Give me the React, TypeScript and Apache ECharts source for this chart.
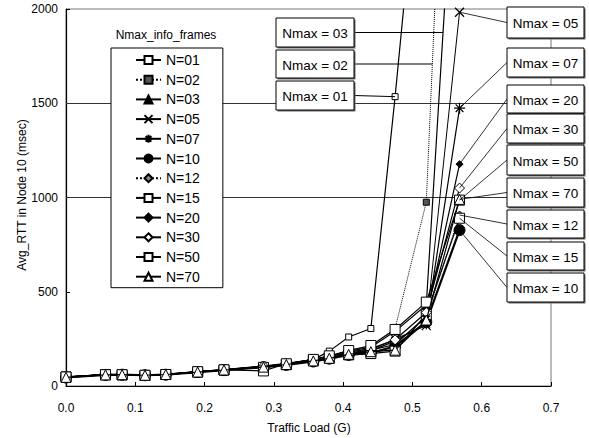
import React, { useEffect, useRef } from "react";
import * as echarts from "echarts";

// ---- data ----
const loads = [0, 0.057, 0.081, 0.114, 0.144, 0.19, 0.228, 0.285, 0.318, 0.357, 0.38, 0.408, 0.44, 0.475, 0.52, 0.568];
const n01 = [46, 60, 61, 57, 60, 74, 86, 103, 118, 140, 185, 260, 305, 1535, 3250, null];
const n02 = [48, 59, 60, 56, 61, 76, 84, 100, 112, 136, 155, 190, 212, 305, 975, 5000];
const n03 = [47, 61, 59, 58, 62, 75, 86, 104, 116, 142, 158, 185, 205, 290, 430, 3300];
const n05 = [46, 60, 60, 57, 62, 73, 85, 101, 114, 137, 150, 172, 190, 250, 320, 1983];
const n07 = [47, 60, 61, 58, 61, 75, 86, 102, 116, 135, 148, 170, 185, 240, 330, 1474];
const n10 = [45, 59, 60, 57, 60, 74, 84, 100, 112, 130, 145, 165, 175, 210, 340, 827];
const n12 = [47, 61, 60, 58, 62, 76, 86, 104, 118, 138, 152, 178, 195, 230, 360, 907];
const n15 = [48, 60, 59, 56, 61, 74, 85, 99, 113, 134, 148, 165, 172, 185, 380, 890];
const n20 = [46, 60, 60, 57, 60, 75, 85, 103, 115, 136, 150, 175, 190, 220, 370, 1177];
const n30 = [47, 61, 61, 58, 62, 77, 87, 106, 120, 140, 155, 180, 198, 245, 390, 1050];
const n50 = [48, 60, 60, 57, 61, 76, 86, 80, 118, 141, 160, 188, 215, 300, 445, 986];
const n70 = [46, 59, 60, 57, 61, 74, 85, 100, 114, 133, 147, 168, 182, 190, 350, 990];

const seriesNames = ["N=01", "N=02", "N=03", "N=05", "N=07", "N=10", "N=12", "N=15", "N=20", "N=30", "N=50", "N=70"];
const seriesValues = [n01, n02, n03, n05, n07, n10, n12, n15, n20, n30, n50, n70];
const xTicks = [0, 0.1, 0.2, 0.3, 0.4, 0.5, 0.6, 0.7];
const yTicks = [0, 500, 1000, 1500, 2000];
const gridLinesY = [1000, 1500];

const legendTitle = "Nmax_info_frames";
const xName = "Traffic Load (G)";
const yName = "Avg_RTT in Node 10 (msec)";

// annotation boxes: label, series index
const rightNotes = [
  { label: "Nmax = 05", s: 3 },
  { label: "Nmax = 07", s: 4 },
  { label: "Nmax = 20", s: 8 },
  { label: "Nmax = 30", s: 9 },
  { label: "Nmax = 50", s: 10 },
  { label: "Nmax = 70", s: 11 },
  { label: "Nmax = 12", s: 6 },
  { label: "Nmax = 15", s: 7 },
  { label: "Nmax = 10", s: 5 },
];
const leftNotes = [
  { label: "Nmax = 03", s: 2 },
  { label: "Nmax = 02", s: 1 },
  { label: "Nmax = 01", s: 0 },
];

// ---- styles ----
const X_PATH = "path://M0,0L10,10M10,0L0,10";
const AST_PATH = "path://M5,0L5,10M0,5L10,5M1.5,1.5L8.5,8.5M8.5,1.5L1.5,8.5";
const styles: any[] = [
  { symbol: "rect", size: 6, fill: "#fff", lw: 1.2, type: "solid" },
  { symbol: "rect", size: 6, fill: "#555", lw: 1, type: "dotted" },
  { symbol: "triangle", size: 7, fill: "#000", lw: 1.2, type: "solid" },
  { symbol: X_PATH, size: 9, fill: "none", lw: 1, type: "solid", stroke: true },
  { symbol: AST_PATH, size: 11, fill: "none", lw: 1.2, type: "solid", stroke: true },
  { symbol: "circle", size: 11, fill: "#000", lw: 2.2, type: "solid" },
  { symbol: "diamond", size: 8, fill: "#888", lw: 1, type: "dotted" },
  { symbol: "rect", size: 10, fill: "#fff", lw: 1.2, type: "solid" },
  { symbol: "diamond", size: 7, fill: "#000", lw: 1.2, type: "solid" },
  { symbol: "diamond", size: 10, fill: "#fff", lw: 1.2, type: "solid" },
  { symbol: "rect", size: 10, fill: "#fff", lw: 1.2, type: "solid" },
  { symbol: "triangle", size: 10, fill: "#fff", lw: 1.2, type: "solid" },
];

const FONT = "Liberation Sans, Arial, sans-serif";

export default function App() {
  const ref = useRef<HTMLDivElement>(null);
  useEffect(() => {
    document.body.style.margin = "0";
    const chart = echarts.init(ref.current!, undefined, { renderer: "svg" });
    const series: any[] = seriesNames.map((name, i) => {
      const st = styles[i];
      const data = loads.map((x, k) => [x, seriesValues[i][k]]).filter((p) => p[1] !== null);
      const s: any = {
        name,
        type: "line",
        data,
        symbol: st.symbol,
        symbolSize: st.size,
        showSymbol: true,
        clip: true,
        z: 2 + i * 0.01,
        lineStyle: { color: "#000", width: st.lw, type: st.type },
        itemStyle: {
          color: st.fill,
          borderColor: "#000",
          borderWidth: st.stroke ? 1.2 : 1,
        },
        emphasis: { disabled: true },
      };
      if (i === 0) {
        s.markLine = {
          silent: true,
          symbol: "none",
          label: { show: false },
          lineStyle: { color: "#333", width: 1, type: "solid" },
          data: gridLinesY.map((v) => ({ yAxis: v })),
          z: 1,
        };
      }
      return s;
    });

    chart.setOption({
      animation: false,
      backgroundColor: "#fff",
      grid: {
        left: 66,
        right: 38,
        top: 9,
        bottom: 52,
        show: true,
        borderColor: "#777",
        borderWidth: 1,
        backgroundColor: "transparent",
      },
      legend: {
        orient: "vertical",
        left: 111,
        top: 48,
        data: seriesNames,
        itemWidth: 25,
        itemHeight: 10,
        itemGap: 5.7,
        padding: [5, 23, 4, 24],
        backgroundColor: "#fff",
        borderColor: "#000",
        borderWidth: 1,
        selectedMode: false,
        textStyle: { fontFamily: FONT, fontSize: 14, color: "#000" },
        z: 10,
      },
      xAxis: {
        type: "value",
        min: 0,
        max: 0.7,
        interval: 0.1,
        axisLine: { show: true, lineStyle: { color: "#000", width: 1.2 } },
        axisTick: { show: true, inside: true, length: 4, lineStyle: { color: "#000" } },
        splitLine: { show: false },
        axisLabel: {
          margin: 16,
          fontFamily: FONT,
          fontSize: 12,
          color: "#000",
          formatter: (v: number) => (xTicks.some((t) => Math.abs(t - v) < 1e-9) ? v.toFixed(1) : ""),
        },
      },
      yAxis: {
        type: "value",
        min: 0,
        max: 2000,
        interval: 500,
        axisLine: { show: true, lineStyle: { color: "#000", width: 1.2 } },
        axisTick: { show: true, inside: true, length: 4, lineStyle: { color: "#000" } },
        splitLine: { show: false },
        axisLabel: {
          margin: 8,
          fontFamily: FONT,
          fontSize: 12,
          color: "#000",
          formatter: (v: number) => (yTicks.includes(v) ? String(v) : ""),
        },
      },
      series,
    });

    const px = (x: number, y: number) => chart.convertToPixel({ gridIndex: 0 } as any, [x, y]) as number[];
    const lastPt = (si: number) => {
      const vals = seriesValues[si];
      let k = vals.length - 1;
      while (vals[k] === null) k--;
      return px(loads[k], vals[k] as number);
    };
    const crossAt = (si: number, yPix: number) => {
      const vals = seriesValues[si];
      for (let k = 1; k < vals.length; k++) {
        if (vals[k] === null || vals[k - 1] === null) continue;
        const a = px(loads[k - 1], vals[k - 1] as number);
        const b = px(loads[k], vals[k] as number);
        if ((a[1] - yPix) * (b[1] - yPix) <= 0 && a[1] !== b[1]) {
          const t = (yPix - a[1]) / (b[1] - a[1]);
          return [a[0] + t * (b[0] - a[0]), yPix];
        }
      }
      return lastPt(si);
    };

    const graphics: any[] = [];
    const box = (x: number, y: number, w: number, h: number, label: string) => {
      graphics.push({
        type: "rect",
        z: 100,
        shape: { x: x + 1.5, y: y + 1.5, width: w, height: h },
        style: { fill: "#666", stroke: "none" },
      });
      graphics.push({
        type: "rect",
        z: 101,
        shape: { x, y, width: w, height: h },
        style: { fill: "#fff", stroke: "#000", lineWidth: 1 },
      });
      graphics.push({
        type: "text",
        z: 102,
        x: x + w / 2,
        y: y + h / 2 + 1,
        style: {
          text: label,
          fontFamily: FONT,
          fontSize: 13.5,
          fill: "#000",
          align: "center",
          verticalAlign: "middle",
        },
      });
    };

    const rBoxes = [
      [7, 31], [48, 29], [85, 28], [114, 29], [145, 30], [178, 29], [210, 28], [242, 28], [273, 29],
    ];
    rightNotes.forEach((n, i) => {
      const [y, h] = rBoxes[i];
      const p = lastPt(n.s);
      graphics.push({
        type: "line",
        z: 50,
        shape: { x1: 507, y1: y + h / 2, x2: p[0], y2: p[1] },
        style: { stroke: "#000", lineWidth: 0.8 },
      });
      box(507, y, 77, h, n.label);
    });

    const lBoxes = [[18, 29], [50, 28], [81, 29]];
    leftNotes.forEach((n, i) => {
      const [y, h] = lBoxes[i];
      const ym = y + h / 2;
      const target = n.s === 0 ? px(loads[13], n01[13] as number) : crossAt(n.s, ym);
      graphics.push({
        type: "line",
        z: 50,
        shape: { x1: 354, y1: ym, x2: target[0], y2: target[1] },
        style: { stroke: "#000", lineWidth: 1 },
      });
      box(276, y, 78, h, n.label);
    });

    graphics.push({
      type: "text",
      z: 20,
      x: 166,
      y: 35,
      style: { text: legendTitle, fontFamily: FONT, fontSize: 12, fill: "#000", align: "center", verticalAlign: "middle" },
    });
    graphics.push({
      type: "text",
      z: 20,
      x: 309,
      y: 428,
      style: { text: xName, fontFamily: FONT, fontSize: 12, fill: "#000", align: "center", verticalAlign: "middle" },
    });
    graphics.push({
      type: "text",
      z: 20,
      x: 22,
      y: 195,
      rotation: Math.PI / 2,
      style: { text: yName, fontFamily: FONT, fontSize: 12, fill: "#000", align: "center", verticalAlign: "middle" },
    });

    chart.setOption({ graphic: graphics });

    return () => chart.dispose();
  }, []);
  return (
    <div
      ref={ref}
      style={{ position: "fixed", left: 0, top: 0, width: 589, height: 438 }}
    />
  );
}
